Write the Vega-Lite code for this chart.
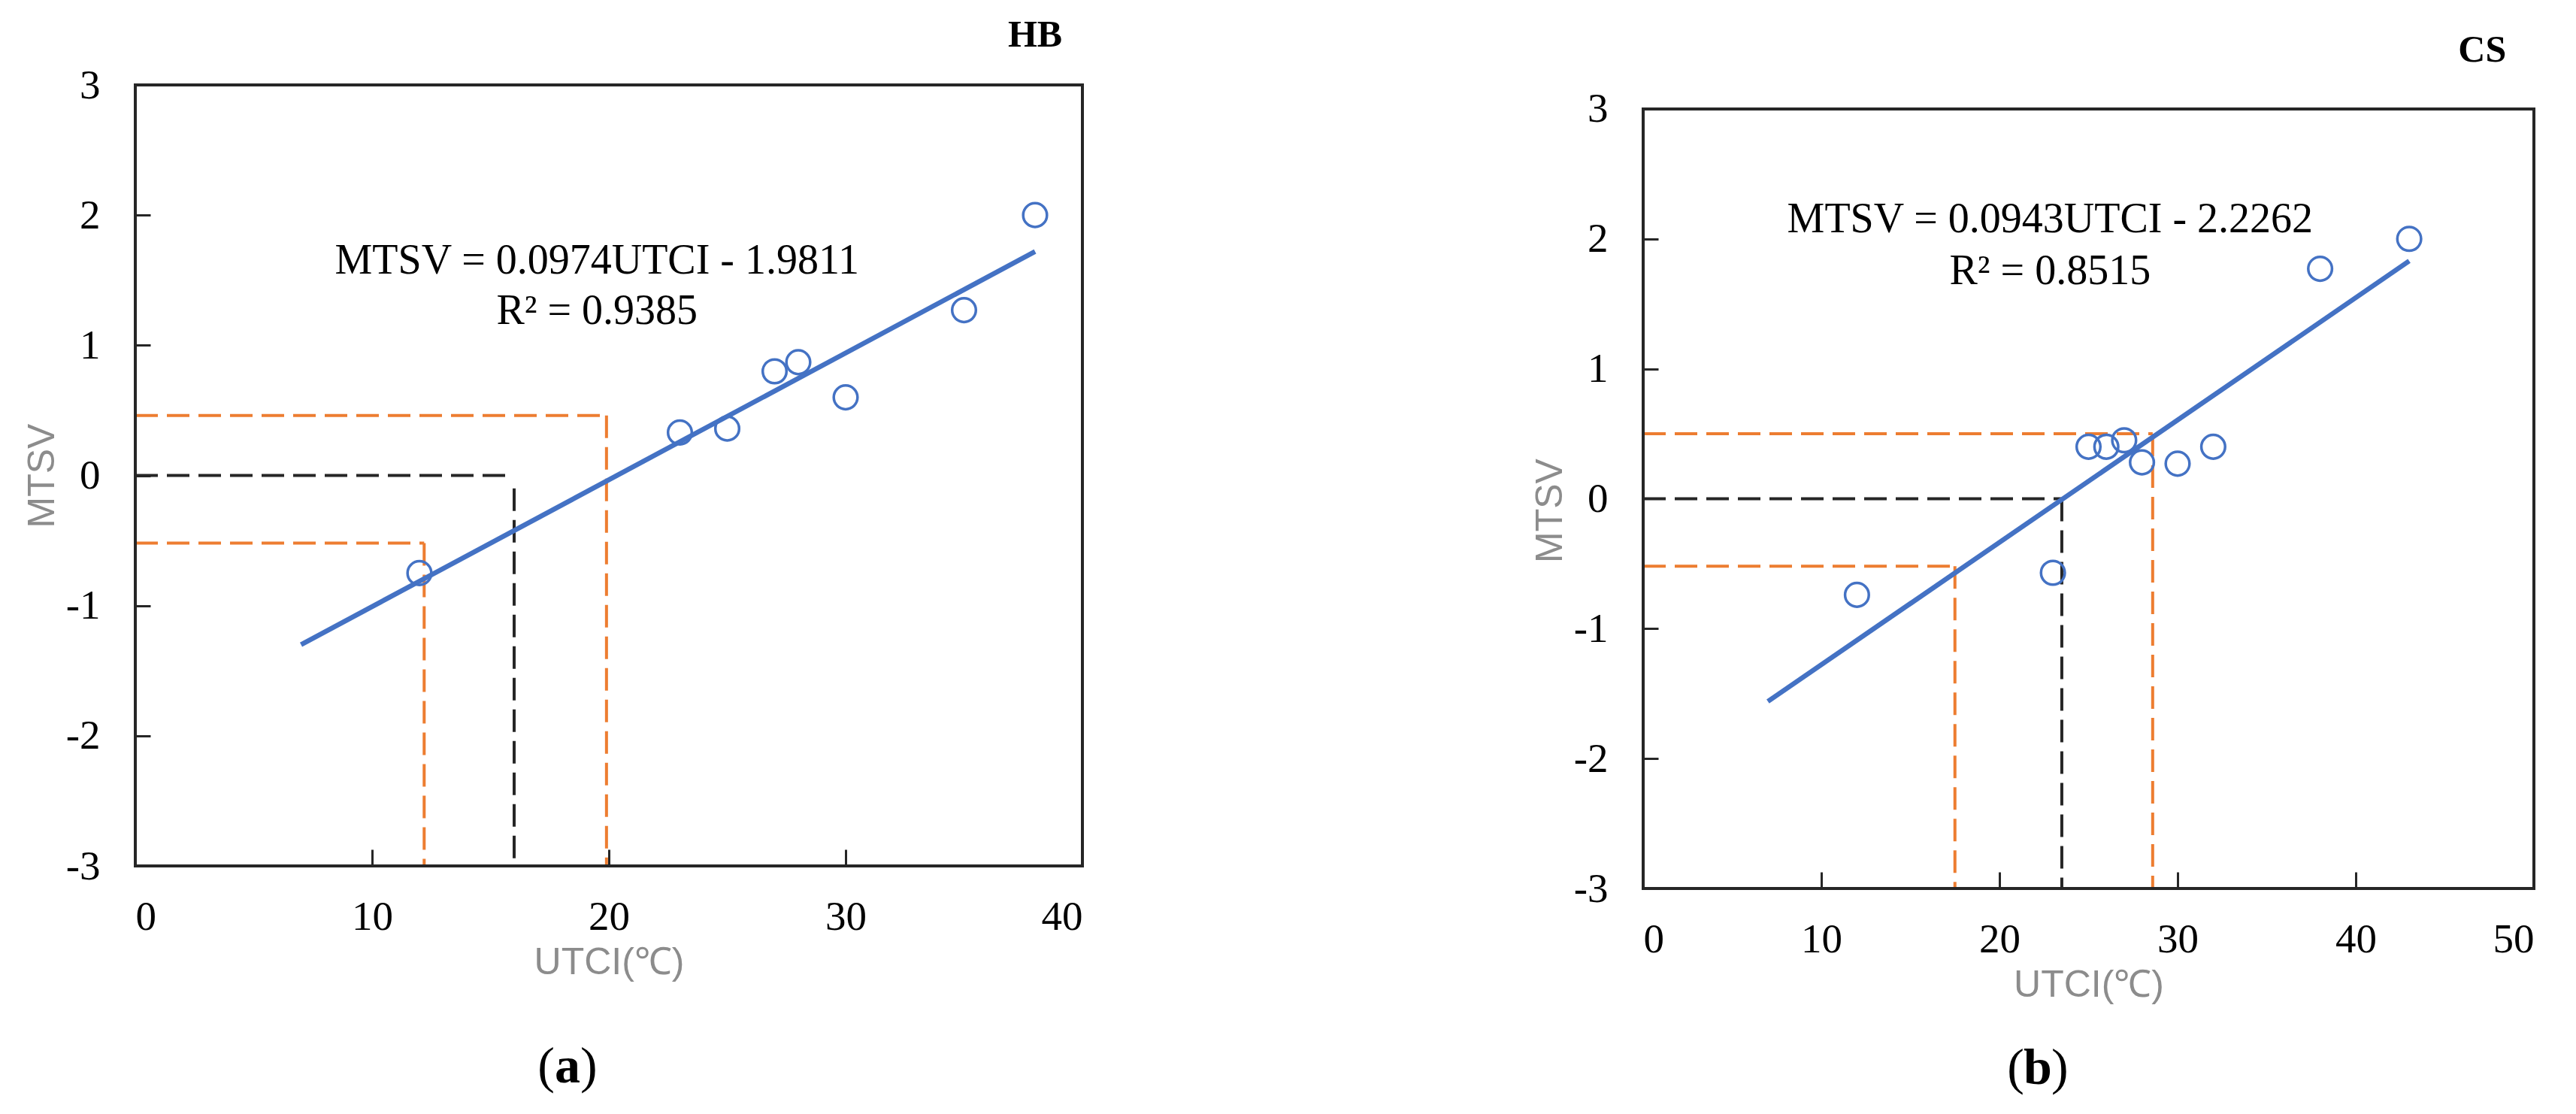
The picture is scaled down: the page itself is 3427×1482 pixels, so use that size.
{
  "$schema": "https://vega.github.io/schema/vega-lite/v6.json",
  "background": "white",
  "padding": {"left": 31, "top": 22, "right": 10, "bottom": 0},
  "config": {
    "view": {"stroke": null},
    "axis": {
      "grid": false,
      "domain": false,
      "ticks": true,
      "tickColor": "#262626",
      "tickWidth": 3,
      "labelFont": "Liberation Serif",
      "labelFontSize": 55,
      "labelColor": "black",
      "labelExpr": "'' + datum.value",
      "titleFont": "Liberation Sans",
      "titleFontSize": 50,
      "titleFontWeight": "normal",
      "titleColor": "#8c8c8c"
    },
    "axisX": {"tickSize": -22, "labelPadding": 63, "titlePadding": 8},
    "axisY": {"tickSize": -20, "labelPadding": 67, "titlePadding": 6},
    "concat": {"spacing": 595}
  },
  "datasets": {
    "hb_points": [
      {"utci": 12, "mtsv": -0.75},
      {"utci": 23, "mtsv": 0.33},
      {"utci": 25, "mtsv": 0.36},
      {"utci": 27, "mtsv": 0.8},
      {"utci": 28, "mtsv": 0.87},
      {"utci": 30, "mtsv": 0.6},
      {"utci": 35, "mtsv": 1.27},
      {"utci": 38, "mtsv": 2.0}
    ],
    "hb_fit": [
      {"utci": 7, "mtsv": -1.3},
      {"utci": 38, "mtsv": 1.72}
    ],
    "hb_guides": [
      {"x": 0, "y": 0.46, "x2": 19.9, "y2": 0.46, "kind": "range"},
      {"x": 19.9, "y": 0.46, "x2": 19.9, "y2": -3, "kind": "range"},
      {"x": 0, "y": 0, "x2": 15.8, "y2": 0, "kind": "neutral"},
      {"x": 16, "y": -0.1, "x2": 16, "y2": -3, "kind": "neutral"},
      {"x": 0, "y": -0.52, "x2": 12.2, "y2": -0.52, "kind": "range"},
      {"x": 12.2, "y": -0.52, "x2": 12.2, "y2": -3, "kind": "range"}
    ],
    "cs_points": [
      {"utci": 12, "mtsv": -0.74},
      {"utci": 23, "mtsv": -0.57},
      {"utci": 25, "mtsv": 0.4},
      {"utci": 26, "mtsv": 0.4},
      {"utci": 27, "mtsv": 0.45},
      {"utci": 28, "mtsv": 0.28},
      {"utci": 30, "mtsv": 0.27},
      {"utci": 32, "mtsv": 0.4},
      {"utci": 38, "mtsv": 1.77},
      {"utci": 43, "mtsv": 2.0}
    ],
    "cs_fit": [
      {"utci": 7, "mtsv": -1.56},
      {"utci": 43, "mtsv": 1.83}
    ],
    "cs_guides": [
      {"x": 0, "y": 0.5, "x2": 28.6, "y2": 0.5, "kind": "range"},
      {"x": 28.6, "y": 0.5, "x2": 28.6, "y2": -3, "kind": "range"},
      {"x": 0, "y": 0, "x2": 23.5, "y2": 0, "kind": "neutral"},
      {"x": 23.5, "y": 0, "x2": 23.5, "y2": -3, "kind": "neutral"},
      {"x": 0, "y": -0.52, "x2": 17.5, "y2": -0.52, "kind": "range"},
      {"x": 17.5, "y": -0.52, "x2": 17.5, "y2": -3, "kind": "range"}
    ]
  },
  "hconcat": [
    {
      "width": 1260,
      "height": 1039,
      "encoding": {
        "x": {
          "type": "quantitative",
          "scale": {"domain": [0, 40], "nice": false, "zero": false},
          "axis": {"values": [0, 10, 20, 30, 40], "title": "UTCI(℃)"}
        },
        "y": {
          "type": "quantitative",
          "scale": {"domain": [-3, 3], "nice": false, "zero": false},
          "axis": {"values": [-3, -2, -1, 0, 1, 2, 3], "title": "MTSV"}
        }
      },
      "layer": [
        {
          "data": {"name": "hb_guides"},
          "mark": {"type": "rule", "strokeWidth": 4, "strokeDash": [30, 12]},
          "encoding": {
            "x": {"field": "x", "type": "quantitative"},
            "y": {"field": "y", "type": "quantitative"},
            "x2": {"field": "x2"},
            "y2": {"field": "y2"},
            "color": {
              "field": "kind",
              "type": "nominal",
              "scale": {"domain": ["range", "neutral"], "range": ["#ED7D31", "#262626"]},
              "legend": null
            }
          }
        },
        {
          "data": {"name": "hb_fit"},
          "mark": {"type": "line", "color": "#4472C4", "strokeWidth": 6.5},
          "encoding": {
            "x": {"field": "utci", "type": "quantitative"},
            "y": {"field": "mtsv", "type": "quantitative"}
          }
        },
        {
          "data": {"name": "hb_points"},
          "mark": {"type": "point", "shape": "circle", "filled": false, "color": "#4472C4", "strokeWidth": 3.5, "size": 1000, "opacity": 1},
          "encoding": {
            "x": {"field": "utci", "type": "quantitative"},
            "y": {"field": "mtsv", "type": "quantitative"}
          }
        },
        {
          "data": {"values": [{}]},
          "layer": [
            {
              "mark": {"type": "rect", "filled": false, "color": "#262626", "strokeWidth": 4},
              "encoding": {"x": {"datum": 0}, "x2": {"datum": 40}, "y": {"datum": -3}, "y2": {"datum": 3}}
            },
            {
              "mark": {"type": "text", "text": "MTSV = 0.0974UTCI - 1.9811", "font": "Liberation Serif", "fontSize": 56, "color": "black"},
              "encoding": {"x": {"datum": 19.5}, "y": {"datum": 1.65}}
            },
            {
              "mark": {"type": "text", "text": "R² = 0.9385", "font": "Liberation Serif", "fontSize": 56, "color": "black"},
              "encoding": {"x": {"datum": 19.5}, "y": {"datum": 1.26}}
            },
            {
              "mark": {"type": "text", "text": "HB", "font": "Liberation Serif", "fontSize": 50, "fontWeight": "bold", "color": "black"},
              "encoding": {"x": {"datum": 38.0}, "y": {"datum": 3.38}}
            },
            {
              "mark": {"type": "text", "text": "(", "font": "Liberation Serif", "fontSize": 68, "align": "right", "dx": -17, "color": "black"},
              "encoding": {"x": {"datum": 18.25}, "y": {"datum": -4.55}}
            },
            {
              "mark": {"type": "text", "text": "a", "font": "Liberation Serif", "fontSize": 68, "fontWeight": "bold", "color": "black"},
              "encoding": {"x": {"datum": 18.25}, "y": {"datum": -4.55}}
            },
            {
              "mark": {"type": "text", "text": ")", "font": "Liberation Serif", "fontSize": 68, "align": "left", "dx": 17, "color": "black"},
              "encoding": {"x": {"datum": 18.25}, "y": {"datum": -4.55}}
            }
          ]
        }
      ]
    },
    {
      "width": 1185,
      "height": 1069,
      "encoding": {
        "x": {
          "type": "quantitative",
          "scale": {"domain": [0, 50], "nice": false, "zero": false},
          "axis": {"values": [0, 10, 20, 30, 40, 50], "title": "UTCI(℃)"}
        },
        "y": {
          "type": "quantitative",
          "scale": {"domain": [-3, 3.185], "nice": false, "zero": false},
          "axis": {"values": [-3, -2, -1, 0, 1, 2, 3], "title": "MTSV", "titleY": 566}
        }
      },
      "layer": [
        {
          "data": {"name": "cs_guides"},
          "mark": {"type": "rule", "strokeWidth": 4, "strokeDash": [30, 12]},
          "encoding": {
            "x": {"field": "x", "type": "quantitative"},
            "y": {"field": "y", "type": "quantitative"},
            "x2": {"field": "x2"},
            "y2": {"field": "y2"},
            "color": {
              "field": "kind",
              "type": "nominal",
              "scale": {"domain": ["range", "neutral"], "range": ["#ED7D31", "#262626"]},
              "legend": null
            }
          }
        },
        {
          "data": {"name": "cs_fit"},
          "mark": {"type": "line", "color": "#4472C4", "strokeWidth": 6.5},
          "encoding": {
            "x": {"field": "utci", "type": "quantitative"},
            "y": {"field": "mtsv", "type": "quantitative"}
          }
        },
        {
          "data": {"name": "cs_points"},
          "mark": {"type": "point", "shape": "circle", "filled": false, "color": "#4472C4", "strokeWidth": 3.5, "size": 1000, "opacity": 1},
          "encoding": {
            "x": {"field": "utci", "type": "quantitative"},
            "y": {"field": "mtsv", "type": "quantitative"}
          }
        },
        {
          "data": {"values": [{}]},
          "layer": [
            {
              "mark": {"type": "rect", "filled": false, "color": "#262626", "strokeWidth": 4},
              "encoding": {"x": {"datum": 0}, "x2": {"datum": 50}, "y": {"datum": -3}, "y2": {"datum": 3}}
            },
            {
              "mark": {"type": "text", "text": "MTSV = 0.0943UTCI - 2.2262", "font": "Liberation Serif", "fontSize": 56, "color": "black"},
              "encoding": {"x": {"datum": 22.84}, "y": {"datum": 2.15}}
            },
            {
              "mark": {"type": "text", "text": "R² = 0.8515", "font": "Liberation Serif", "fontSize": 56, "color": "black"},
              "encoding": {"x": {"datum": 22.84}, "y": {"datum": 1.75}}
            },
            {
              "mark": {"type": "text", "text": "CS", "font": "Liberation Serif", "fontSize": 50, "fontWeight": "bold", "color": "black"},
              "encoding": {"x": {"datum": 47.1}, "y": {"datum": 3.45}}
            },
            {
              "mark": {"type": "text", "text": "(", "font": "Liberation Serif", "fontSize": 68, "align": "right", "dx": -18, "color": "black"},
              "encoding": {"x": {"datum": 22.15}, "y": {"datum": -4.39}}
            },
            {
              "mark": {"type": "text", "text": "b", "font": "Liberation Serif", "fontSize": 68, "fontWeight": "bold", "color": "black"},
              "encoding": {"x": {"datum": 22.15}, "y": {"datum": -4.39}}
            },
            {
              "mark": {"type": "text", "text": ")", "font": "Liberation Serif", "fontSize": 68, "align": "left", "dx": 18, "color": "black"},
              "encoding": {"x": {"datum": 22.15}, "y": {"datum": -4.39}}
            }
          ]
        }
      ]
    }
  ]
}
